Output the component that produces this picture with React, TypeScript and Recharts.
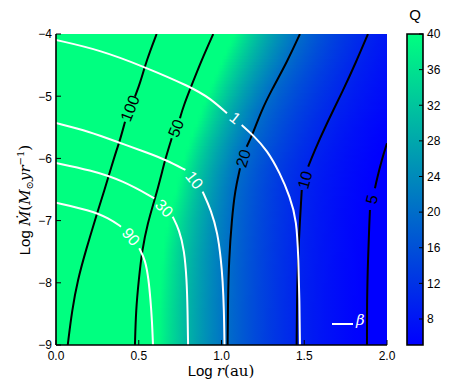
import React from 'react';
import { ComposedChart, Line, Scatter, XAxis, YAxis, ReferenceArea, Legend } from 'recharts';

type Pt = [number, number];

// ---- axes ----
const xTicks = [0, 0.5, 1, 1.5, 2];
const yTicks = [-4, -5, -6, -7, -8, -9];
const colorbarTicks = [8, 12, 16, 20, 24, 28, 32, 36, 40];
const qRange: [number, number] = [5.08, 40];

// ---- Toomre Q contours (black): [log r, log Mdot] ----
const q100Upper: Pt[] = [[0.608, -4.0], [0.548, -4.418], [0.508, -4.793], [0.477, -5.008]];
const q100Label: Pt = [0.447, -5.195];
const q100Lower: Pt[] = [[0.417, -5.41], [0.387, -5.704], [0.366, -5.865], [0.335, -6.133], [0.293, -6.508], [0.248, -6.883], [0.181, -7.473], [0.131, -7.955], [0.097, -8.437], [0.071, -9.0]];

const q50Upper: Pt[] = [[0.95, -4.0], [0.88, -4.418], [0.82, -4.82], [0.769, -5.169], [0.749, -5.355]];
const q50Label: Pt = [0.725, -5.516];
const q50Lower: Pt[] = [[0.699, -5.677], [0.659, -6.026], [0.644, -6.186], [0.613, -6.508], [0.595, -6.669], [0.554, -7.043], [0.52, -7.473], [0.5, -7.955], [0.483, -8.437], [0.477, -9.0]];

const q20Upper: Pt[] = [[1.474, -4.0], [1.396, -4.45], [1.303, -4.9], [1.243, -5.222], [1.182, -5.651], [1.152, -5.812]];
const q20Label: Pt = [1.132, -5.998];
const q20Lower: Pt[] = [[1.112, -6.159], [1.082, -6.508], [1.062, -6.99], [1.045, -7.633], [1.039, -8.277], [1.037, -9.0]];

const q10Upper: Pt[] = [[1.885, -4.0], [1.813, -4.45], [1.736, -4.9], [1.636, -5.436], [1.555, -5.918], [1.524, -6.133]];
const q10Label: Pt = [1.505, -6.347];
const q10Lower: Pt[] = [[1.485, -6.508], [1.474, -6.99], [1.462, -7.633], [1.456, -8.277], [1.454, -9.0]];

const q5Upper: Pt[] = [[2.0, -5.757], [1.968, -6.026], [1.938, -6.347], [1.927, -6.481]];
const q5Label: Pt = [1.908, -6.658];
const q5Lower: Pt[] = [[1.897, -6.83], [1.894, -6.99], [1.885, -7.633], [1.879, -8.277], [1.879, -9.0]];

// ---- beta contours (white) ----
const b1Upper: Pt[] = [[0, -4.096], [0.266, -4.257], [0.532, -4.526], [0.816, -4.852], [0.931, -5.034], [1.033, -5.275]];
const b1Label: Pt = [1.082, -5.35];
const b1Lower: Pt[] = [[1.122, -5.463], [1.19, -5.624], [1.275, -5.865], [1.353, -6.235], [1.414, -6.621], [1.454, -6.99], [1.465, -7.633], [1.471, -8.277], [1.474, -9.0]];

const b10Upper: Pt[] = [[0, -5.431], [0.205, -5.571], [0.367, -5.732], [0.556, -5.913], [0.665, -6.026], [0.782, -6.186]];
const b10Label: Pt = [0.836, -6.347];
const b10Lower: Pt[] = [[0.886, -6.535], [0.937, -6.83], [0.977, -7.204], [0.997, -7.633], [1.007, -7.955], [1.015, -8.437], [1.018, -9.0]];

const b30Upper: Pt[] = [[0, -6.074], [0.205, -6.186], [0.403, -6.355], [0.594, -6.641]];
const b30Label: Pt = [0.654, -6.802];
const b30Lower: Pt[] = [[0.705, -6.937], [0.745, -7.151], [0.775, -7.473], [0.79, -7.955], [0.795, -8.437], [0.798, -9.0]];

const b90Upper: Pt[] = [[0, -6.712], [0.201, -6.83], [0.322, -6.963], [0.393, -7.098]];
const b90Label: Pt = [0.453, -7.259];
const b90Lower: Pt[] = [[0.503, -7.445], [0.54, -7.633], [0.56, -7.955], [0.571, -8.277], [0.58, -8.598], [0.586, -9.0]];

const qContours = [
  { level: 100, upper: q100Upper, label: q100Label, lower: q100Lower },
  { level: 50, upper: q50Upper, label: q50Label, lower: q50Lower },
  { level: 20, upper: q20Upper, label: q20Label, lower: q20Lower },
  { level: 10, upper: q10Upper, label: q10Label, lower: q10Lower },
  { level: 5, upper: q5Upper, label: q5Label, lower: q5Lower },
];
const betaContours = [
  { level: 1, upper: b1Upper, label: b1Label, lower: b1Lower },
  { level: 10, upper: b10Upper, label: b10Label, lower: b10Lower },
  { level: 30, upper: b30Upper, label: b30Label, lower: b30Lower },
  { level: 90, upper: b90Upper, label: b90Label, lower: b90Lower },
];

// colorbar end points (Q range)
const colorbarData = [
  { x: 0, q: qRange[0] },
  { x: 1, q: qRange[1] },
];

// ---- layout constants ----
const PLOT_W = 331;
const PLOT_H = 311;
const PX = PLOT_W / 2;
const PY = PLOT_H / 5;
const SANS = "'Liberation Sans', Arial, sans-serif";
const SERIF = "'DejaVu Serif', 'Liberation Serif', serif";

function winter(q: number) {
  let t = (q - qRange[0]) / (qRange[1] - qRange[0]);
  t = Math.max(0, Math.min(1, t));
  return `rgb(0,${Math.round(255 * t)},${Math.round(255 * (1 - 0.5 * t))})`;
}

function lineData(c: { upper: Pt[]; label: Pt; lower: Pt[] }) {
  return [
    ...c.upper.map(([r, m]) => ({ r, m })),
    { r: c.label[0], m: null as number | null },
    ...c.lower.map(([r, m]) => ({ r, m })),
  ];
}

function labelAngle(c: { upper: Pt[]; lower: Pt[] }) {
  const a = c.upper[c.upper.length - 1];
  const b = c.lower[0];
  let ang = (Math.atan2(-(b[1] - a[1]) * PY, (b[0] - a[0]) * PX) * 180) / Math.PI;
  if (ang > 90) ang -= 180;
  if (ang < -90) ang += 180;
  return ang;
}

const labelPoints = [
  ...qContours.map((c) => ({ r: c.label[0], m: c.label[1], text: String(c.level), color: '#000', angle: labelAngle(c) })),
  ...betaContours.map((c) => ({ r: c.label[0], m: c.label[1], text: String(c.level), color: '#fff', angle: labelAngle(c) })),
];

// ---- heat map built from Q contour positions ----
function crossR(pts: Pt[], m: number): number | null {
  for (let i = 0; i < pts.length - 1; i++) {
    const [r0, m0] = pts[i];
    const [r1, m1] = pts[i + 1];
    if ((m <= m0 && m >= m1) || (m >= m0 && m <= m1)) {
      const f = m1 === m0 ? 0 : (m - m0) / (m1 - m0);
      return r0 + f * (r1 - r0);
    }
  }
  return null;
}
const fullQ = qContours.map((c) => ({ level: c.level, pts: [...c.upper, c.label, ...c.lower] as Pt[] }));
function qProfile(m: number) {
  const known = fullQ
    .map((c) => ({ L: c.level, r: crossR(c.pts, m) }))
    .filter((k) => k.r !== null) as { L: number; r: number }[];
  return (r: number) => {
    let i = 0;
    while (i < known.length - 2 && r > known[i + 1].r) i++;
    const a = known[i];
    const b = known[i + 1];
    const f = (r - a.r) / (b.r - a.r);
    return Math.exp(Math.log(a.L) + f * (Math.log(b.L) - Math.log(a.L)));
  };
}
const BAND = 0.05;
const nBands = Math.round(5 / BAND);
const bands = Array.from({ length: nBands }, (_, k) => {
  const top = -4 - k * BAND;
  const bottom = -4 - (k + 1) * BAND;
  const prof = qProfile((top + bottom) / 2);
  const stops: { offset: number; color: string }[] = [];
  for (let j = 0; j <= 80; j++) {
    const r = j * 0.025;
    stops.push({ offset: r / 2, color: winter(prof(r)) });
  }
  return { id: `qband${k}`, top, bottom: Math.max(-9, bottom - 0.02), stops };
});

// ---- ticks ----
const fmtMinus = (v: number) => (v < 0 ? '\u2212' + Math.abs(v) : String(v));

const BottomTick = (p: any) => (
  <g>
    <line x1={p.x} x2={p.x} y1={p.y} y2={p.y - 5} stroke="#000" strokeWidth={1} />
    <text x={p.x} y={p.y + 15} textAnchor="middle" fontSize={12} fontFamily={SANS} fill="#000">
      {Number(p.payload.value).toFixed(1)}
    </text>
  </g>
);
const TopTick = (p: any) => <line x1={p.x} x2={p.x} y1={p.y} y2={p.y + 5} stroke="#000" strokeWidth={1} />;
const LeftTick = (p: any) => (
  <g>
    <line x1={p.x} x2={p.x + 5} y1={p.y} y2={p.y} stroke="#000" strokeWidth={1} />
    <text x={p.x - 4} y={p.y + 4.3} textAnchor="end" fontSize={12} fontFamily={SANS} fill="#000">
      {fmtMinus(p.payload.value)}
    </text>
  </g>
);
const RightTick = (p: any) => <line x1={p.x} x2={p.x - 5} y1={p.y} y2={p.y} stroke="#000" strokeWidth={1} />;
const CbTick = (p: any) => (
  <g>
    <line x1={p.x} x2={p.x - 4} y1={p.y} y2={p.y} stroke="#000" strokeWidth={1} />
    <text x={p.x + 4} y={p.y + 4.3} textAnchor="start" fontSize={12} fontFamily={SANS} fill="#000">
      {p.payload.value}
    </text>
  </g>
);

const ContourLabel = (p: any) => {
  const { cx, cy, payload } = p;
  if (cx == null || cy == null) return null;
  return (
    <text
      x={cx}
      y={cy}
      transform={`rotate(${payload.angle}, ${cx}, ${cy})`}
      textAnchor="middle"
      dominantBaseline="central"
      fontSize={16}
      fontFamily={SANS}
      fill={payload.color}
    >
      {payload.text}
    </text>
  );
};

const XLabel = () => (
  <text x={221} y={376} textAnchor="middle" fill="#000">
    <tspan fontFamily={SANS} fontSize={15}>Log </tspan>
    <tspan fontFamily={SERIF} fontStyle="italic" fontSize={15}>r</tspan>
    <tspan fontFamily={SERIF} fontSize={15}>(au)</tspan>
  </text>
);
const YLabel = () => (
  <text x={0} y={0} transform="translate(30,200) rotate(-90)" textAnchor="middle" fill="#000">
    <tspan fontFamily={SANS} fontSize={15}>Log </tspan>
    <tspan fontFamily={SERIF} fontStyle="italic" fontSize={15}>{'\u1E40'}</tspan>
    <tspan fontFamily={SERIF} fontSize={15}>(</tspan>
    <tspan fontFamily={SERIF} fontStyle="italic" fontSize={15}>M</tspan>
    <tspan fontFamily={SERIF} fontSize={10} dy={3}>{'\u2299'}</tspan>
    <tspan fontFamily={SERIF} fontStyle="italic" fontSize={15} dy={-3}>yr</tspan>
    <tspan fontFamily={SERIF} fontSize={10} dy={-6}>{'\u22121'}</tspan>
    <tspan fontFamily={SERIF} fontSize={15} dy={6}>)</tspan>
  </text>
);
const QTitle = () => (
  <text x={35} y={19.5} textAnchor="middle" fontSize={15} fontFamily={SANS} fill="#000">
    Q
  </text>
);

const BetaLegend = () => (
  <svg width={60} height={20} style={{ display: 'block', overflow: 'visible' }}>
    <line x1={6} x2={27} y1={10} y2={10} stroke="#fff" strokeWidth={2} />
    <text x={30} y={11} fontFamily={SERIF} fontStyle="italic" fontSize={15} fill="#fff">
      {'\u03B2'}
    </text>
  </svg>
);

const NoDot = () => null;

export default function App() {
  return (
    <div style={{ position: 'absolute', left: 0, top: 0, width: 457, height: 388, background: '#fff' }}>
      <div style={{ position: 'absolute', left: 0, top: 0 }}>
        <ComposedChart width={457} height={388} margin={{ top: 34, right: 70, bottom: 0, left: 0 }}>
          <defs>
            {bands.map((b) => (
              <linearGradient key={b.id} id={b.id} x1="0" y1="0" x2="1" y2="0">
                {b.stops.map((s, i) => (
                  <stop key={i} offset={s.offset} stopColor={s.color} />
                ))}
              </linearGradient>
            ))}
          </defs>
          {bands.map((b) => (
            <ReferenceArea
              key={b.id}
              x1={0}
              x2={2}
              y1={b.bottom}
              y2={b.top}
              fill={`url(#${b.id})`}
              fillOpacity={1}
              stroke="none"
              ifOverflow="visible"
            />
          ))}
          {qContours.map((c) => (
            <Line
              key={`q${c.level}`}
              data={lineData(c)}
              dataKey="m"
              type="basis"
              stroke="#000"
              strokeWidth={2}
              dot={false}
              activeDot={false}
              isAnimationActive={false}
              legendType="none"
            />
          ))}
          {betaContours.map((c) => (
            <Line
              key={`b${c.level}`}
              data={lineData(c)}
              dataKey="m"
              type="basis"
              stroke="#fff"
              strokeWidth={2}
              dot={false}
              activeDot={false}
              isAnimationActive={false}
              legendType="none"
            />
          ))}
          <Scatter data={labelPoints} dataKey="m" shape={<ContourLabel />} isAnimationActive={false} legendType="none" />
          <XAxis
            type="number"
            dataKey="r"
            domain={[0, 2]}
            ticks={xTicks}
            height={43}
            tickSize={0}
            tickMargin={0}
            tick={<BottomTick />}
            axisLine={{ stroke: '#000', strokeWidth: 1.6 }}
            tickLine={false}
            allowDataOverflow
            label={<XLabel />}
          />
          <XAxis
            xAxisId="top"
            orientation="top"
            type="number"
            dataKey="r"
            domain={[0, 2]}
            ticks={xTicks}
            height={0}
            tickSize={0}
            tickMargin={0}
            tick={<TopTick />}
            axisLine={{ stroke: '#000', strokeWidth: 1.6 }}
            tickLine={false}
          />
          <YAxis
            type="number"
            dataKey="m"
            domain={[-9, -4]}
            ticks={yTicks}
            width={56}
            tickSize={0}
            tickMargin={0}
            tick={<LeftTick />}
            axisLine={{ stroke: '#000', strokeWidth: 1.6 }}
            tickLine={false}
            allowDataOverflow
            label={<YLabel />}
          />
          <YAxis
            yAxisId="right"
            orientation="right"
            type="number"
            dataKey="m"
            domain={[-9, -4]}
            ticks={yTicks}
            width={0}
            tickSize={0}
            tickMargin={0}
            tick={<RightTick />}
            axisLine={{ stroke: '#000', strokeWidth: 1.6 }}
            tickLine={false}
          />
          <Legend
            verticalAlign="middle"
            align="center"
            layout="horizontal"
            wrapperStyle={{ left: 326, top: 314, width: 60, height: 20 }}
            content={() => <BetaLegend />}
          />
        </ComposedChart>
      </div>
      <div style={{ position: 'absolute', left: 380, top: 0 }}>
        <ComposedChart width={77} height={388} data={colorbarData} margin={{ top: 34, right: 0, bottom: 43, left: 27 }}>
          <defs>
            <linearGradient id="cbgrad" x1="0" y1="0" x2="0" y2="1">
              <stop offset="0" stopColor={winter(qRange[1])} />
              <stop offset="1" stopColor={winter(qRange[0])} />
            </linearGradient>
          </defs>
          <ReferenceArea
            x1={0}
            x2={1}
            y1={qRange[0]}
            y2={qRange[1]}
            fill="url(#cbgrad)"
            fillOpacity={1}
            stroke="#000"
            strokeWidth={1.6}
            ifOverflow="visible"
          />
          <Scatter dataKey="q" shape={<NoDot />} isAnimationActive={false} legendType="none" />
          <XAxis type="number" dataKey="x" domain={[0, 1]} hide />
          <YAxis
            type="number"
            dataKey="q"
            orientation="right"
            domain={qRange}
            ticks={colorbarTicks}
            width={34}
            tickSize={0}
            tickMargin={0}
            tick={<CbTick />}
            axisLine={false}
            tickLine={false}
            allowDataOverflow
            label={<QTitle />}
          />
        </ComposedChart>
      </div>
    </div>
  );
}
